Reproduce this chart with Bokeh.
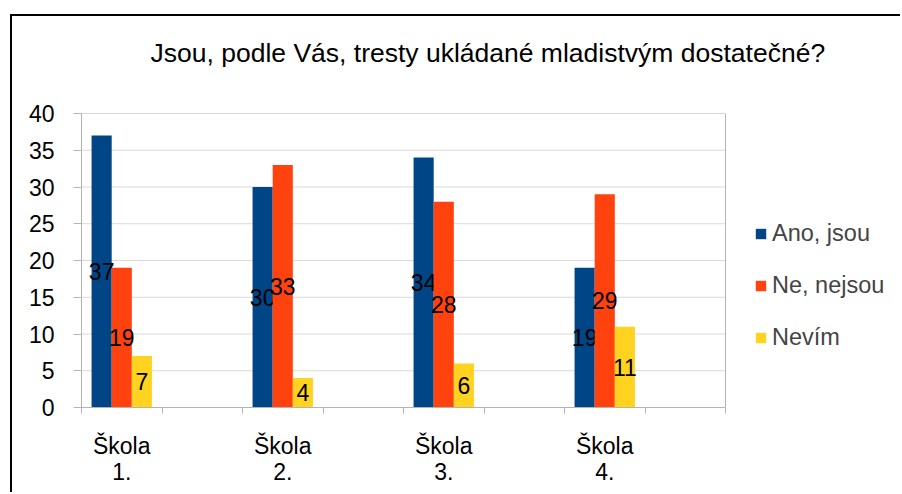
from bokeh.plotting import figure
from bokeh.models import Range1d, FixedTicker, Legend, LegendItem, ColumnDataSource, Title
from bokeh.transform import dodge
from bokeh.core.properties import value
from bokeh.embed import file_html
from bokeh.resources import INLINE

title_text = "Jsou, podle Vás, tresty ukládané mladistvým dostatečné?"
schools = ["Škola\n1.", "Škola\n2.", "Škola\n3.", "Škola\n4."]
series = ["Ano, jsou", "Ne, nejsou", "Nevím"]
ano = [37, 30, 34, 19]
ne = [19, 33, 28, 29]
nevim = [7, 4, 6, 11]
colors = ["#004586", "#ff420e", "#ffd320"]
y_ticks = [0, 5, 10, 15, 20, 25, 30, 35, 40]

FONT = "Liberation Sans"
slot_count = 2 * len(schools)           # every school followed by an empty slot
pos = [2 * i + 0.5 for i in range(len(schools))]

src = ColumnDataSource(dict(
    pos=pos,
    ano=ano, ne=ne, nevim=nevim,
    ano_h=[v / 2 for v in ano], ne_h=[v / 2 for v in ne], nevim_h=[v / 2 for v in nevim],
    ano_t=[str(v) for v in ano], ne_t=[str(v) for v in ne], nevim_t=[str(v) for v in nevim],
))

W, H = 890, 478
ML, MR, MB, MT = 69, 2, 87, 97
plot_px = 644                                   # width of the category area
frame_px = W - ML - MR
x_end = slot_count * frame_px / plot_px         # extra room on the right for the legend
y_end = 40

p = figure(width=W, height=H, output_backend="svg", toolbar_location=None,
           x_range=Range1d(0, x_end), y_range=Range1d(0, y_end),
           min_border_left=ML, min_border_right=MR, min_border_bottom=MB, min_border_top=MT)
p.styles = {"border-left": "2px solid black", "border-top": "2px solid black"}
p.margin = (14, 0, 0, 10)

p.title.text = title_text
p.title.text_font = FONT
p.title.text_font_size = "26.5px"
p.title.text_font_style = "normal"
p.title.text_color = "black"
p.title.align = "left"
p.title.offset = 69
p.title.standoff = 0
p.add_layout(Title(text=" ", text_font_size="10px", standoff=33), "above")

# grid lines limited to the category area
p.xgrid.visible = False
p.ygrid.visible = False
p.outline_line_color = None
p.segment(x0=0, x1=slot_count, y0=y_ticks[1:-1], y1=y_ticks[1:-1], line_color="#d9d9d9", line_width=1)
p.segment(x0=[0, slot_count], x1=[slot_count, slot_count], y0=[y_end, 0], y1=[y_end, y_end],
          line_color="#b3b3b3", line_width=1)

fields = ["ano", "ne", "nevim"]
offsets = [-0.25, 0.0, 0.25]
renderers = []
for f, off, c in zip(fields, offsets, colors):
    r = p.vbar(x=dodge("pos", off, range=p.x_range), top=f, width=0.25, source=src,
               fill_color=c, line_color=None)
    renderers.append(r)
    p.text(x=dodge("pos", off, range=p.x_range), y=f + "_h", text=f + "_t", source=src,
           text_font=value(FONT), text_font_size="23px", text_color="black",
           text_align="center", text_baseline="middle")

yax = p.yaxis[0]
yax.ticker = FixedTicker(ticks=y_ticks)
yax.axis_line_color = "#b3b3b3"
yax.major_tick_line_color = "#b3b3b3"
yax.major_tick_out = 8
yax.major_tick_in = 0
yax.minor_tick_line_color = None
yax.major_label_text_font = FONT
yax.major_label_text_font_size = "23px"
yax.major_label_text_color = "black"
yax.major_label_standoff = 19

xax = p.xaxis[0]
xax.bounds = (0, slot_count)
xax.ticker = FixedTicker(ticks=pos, minor_ticks=list(range(slot_count + 1)))
xax.major_label_overrides = {pp: s for pp, s in zip(pos, schools)}
xax.axis_line_color = "#b3b3b3"
xax.major_tick_line_color = None
xax.minor_tick_line_color = "#b3b3b3"
xax.minor_tick_out = 6
xax.minor_tick_in = 0
xax.major_label_text_font = FONT
xax.major_label_text_font_size = "23px"
xax.major_label_text_color = "black"
xax.major_label_text_line_height = 1.0
xax.major_label_standoff = 19

legend = Legend(items=[LegendItem(label=s, renderers=[r]) for s, r in zip(series, renderers)],
                location=(673, 56), glyph_width=13, glyph_height=13, label_standoff=5,
                spacing=25, padding=0, margin=0, border_line_alpha=0, background_fill_alpha=0,
                label_text_font=FONT, label_text_font_size="23.5px")
p.add_layout(legend, "center")

open("out.html", "w").write(file_html(p, INLINE))
